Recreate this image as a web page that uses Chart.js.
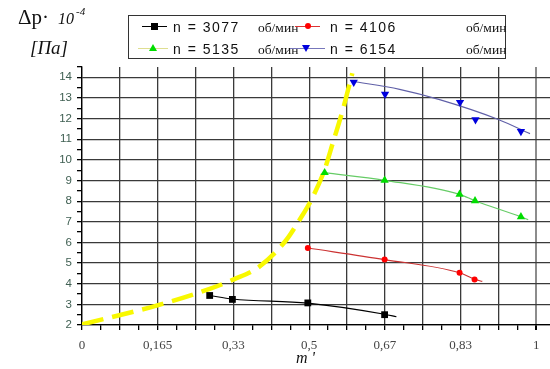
<!DOCTYPE html>
<html>
<head>
<meta charset="utf-8">
<script src="https://cdn.jsdelivr.net/npm/chart.js@4.4.0/dist/chart.umd.min.js"></script>
<style>
body { margin: 0; background: #fff; }
#wrap { position: relative; width: 550px; height: 369px; overflow: hidden; }
#chart { position: absolute; left: 0; top: 0; }
.t { position: absolute; white-space: nowrap; font-family: "Liberation Serif", serif; color: #111; line-height: 1; }
.sans { font-family: "Liberation Sans", Arial, sans-serif; font-size: 14px; letter-spacing: 1.5px; }
.ser { font-size: 13.5px; }
#legend { position: absolute; left: 128px; top: 15px; width: 376px; height: 42px; border: 1px solid #333; }
.ln { position: absolute; height: 1px; }
.mk { position: absolute; }
</style>
</head>
<body>
<div id="wrap">
  <canvas id="chart" width="550" height="369"></canvas>

  <div class="t" style="left:18px;top:7px;font-size:21px;">&Delta;p&middot;<i style="font-size:16px;margin-left:9px">10</i><sup style="font-size:11px;font-style:italic;position:relative;top:-1px;margin-left:2px">-4</sup></div>
  <div class="t" style="left:30px;top:38px;font-size:19px;"><i>[Па]</i></div>
  <div class="t" style="left:296px;top:350px;font-size:16px;"><i>m '</i></div>

  <div id="legend">
    <div class="ln" style="left:13px;top:10px;width:25px;background:#000"></div>
    <div class="mk" style="left:22px;top:7px;width:7px;height:7px;background:#000"></div>
    <div class="t sans" style="left:44px;top:4px">n = 3077</div>
    <div class="t ser" style="left:129px;top:5px">об/мин</div>

    <div class="ln" style="left:166px;top:10px;width:25px;background:#d33"></div>
    <div class="mk" style="left:176px;top:7px;width:6px;height:6px;border-radius:50%;background:#f00"></div>
    <div class="t sans" style="left:201px;top:4px">n = 4106</div>
    <div class="t ser" style="left:337px;top:5px">об/мин</div>

    <div class="ln" style="left:9px;top:32px;width:30px;background:#dede90"></div>
    <div class="mk" style="left:20px;top:28px;width:0;height:0;border-left:4.5px solid transparent;border-right:4.5px solid transparent;border-bottom:7px solid #00dd00"></div>
    <div class="t sans" style="left:44px;top:26px">n = 5135</div>
    <div class="t ser" style="left:129px;top:27px">об/мин</div>

    <div class="ln" style="left:161px;top:32px;width:35px;background:#7777bb"></div>
    <div class="mk" style="left:173px;top:29px;width:0;height:0;border-left:4.5px solid transparent;border-right:4.5px solid transparent;border-top:7px solid #0000dd"></div>
    <div class="t sans" style="left:201px;top:26px">n = 6154</div>
    <div class="t ser" style="left:337px;top:27px">об/мин</div>
  </div>
</div>

<script>
// tick labels, x axis goes in steps of 1/12, labels every 1/6
const xTickLabels = ['0', '0,165', '0,33', '0,5', '0,67', '0,83', '1'];
const yMin = 2, yMax = 14.5;

// measured points (m', dp*1e-4)
const m3077 = [0.281, 0.331, 0.497, 0.666];
const dp3077 = [3.43, 3.24, 3.07, 2.50];
const m4106 = [0.497, 0.666, 0.831, 0.864];
const dp4106 = [5.73, 5.17, 4.53, 4.21];
const m5135 = [0.534, 0.666, 0.831, 0.865, 0.966];
const dp5135 = [9.38, 9.01, 8.33, 8.02, 7.24];
const m6154 = [0.598, 0.667, 0.832, 0.866, 0.966];
const dp6154 = [13.76, 13.18, 12.79, 11.95, 11.38];

// approximating curves as drawn
const fit3077X = [0.281, 0.331, 0.497, 0.666, 0.692];
const fit3077Y = [3.43, 3.26, 3.06, 2.52, 2.40];
const fit4106X = [0.497, 0.666, 0.831, 0.864, 0.881];
const fit4106Y = [5.73, 5.17, 4.53, 4.22, 4.11];
const fit5135X = [0.534, 0.666, 0.831, 0.865, 0.966, 0.982];
const fit5135Y = [9.38, 9.01, 8.33, 8.02, 7.24, 7.10];
const fit6154X = [0.594, 0.699, 0.787, 0.915, 0.986];
const fit6154Y = [13.81, 13.42, 12.92, 11.97, 11.27];

// yellow dashed boundary curve
const edgeX = [0, 0.164, 0.281, 0.333, 0.391, 0.450, 0.479, 0.497, 0.505, 0.534, 0.552, 0.574, 0.595];
const edgeY = [2.03, 2.94, 3.75, 4.20, 4.84, 6.13, 7.10, 7.75, 8.07, 9.53, 10.82, 12.43, 14.2];

function pts(xs, ys) {
  return xs.map((x, i) => ({ x: x, y: ys[i] }));
}

function marks(xs, ys, color, style, r, rot) {
  return {
    data: pts(xs, ys), showLine: false,
    pointStyle: style, pointRadius: r, pointRotation: rot || 0,
    pointBackgroundColor: color, pointBorderColor: color, pointBorderWidth: 0
  };
}

function curve(xs, ys, color, w) {
  return {
    data: pts(xs, ys), showLine: true, pointRadius: 0,
    borderColor: color, borderWidth: w, cubicInterpolationMode: 'monotone'
  };
}

const yellow = curve(edgeX, edgeY, '#f8f800', 4.5);
yellow.borderDash = [22, 9];

const ctx = document.getElementById('chart').getContext('2d');
const chart = new Chart(ctx, {
  type: 'scatter',
  data: {
    datasets: [
      marks(m6154, dp6154, '#0000dd', 'triangle', 4.8, 180),
      marks(m5135, dp5135, '#00dd00', 'triangle', 4.8),
      marks(m4106, dp4106, '#ff0000', 'circle', 3),
      marks(m3077, dp3077, '#000000', 'rect', 4.8),
      curve(fit6154X, fit6154Y, '#6060a8', 1.2),
      curve(fit5135X, fit5135Y, '#66cc66', 1.2),
      curve(fit4106X, fit4106Y, '#cc3333', 1.2),
      curve(fit3077X, fit3077Y, '#000000', 1.2),
      yellow
    ]
  },
  options: {
    responsive: false,
    animation: false,
    devicePixelRatio: 1,
    layout: { autoPadding: false, padding: { left: 0, right: 0, top: 67, bottom: 0 } },
    plugins: { legend: { display: false }, tooltip: { enabled: false } },
    scales: {
      x: {
        type: 'linear', min: 0, max: 1.03,
        afterBuildTicks: (s) => {
          s.ticks = [];
          for (let i = 0; i <= 24; i++) s.ticks.push({ value: i / 24 });
        },
        afterFit: (s) => { s.height = 44; s.paddingLeft = 0; s.paddingRight = 0; },
        ticks: {
          autoSkip: false, maxRotation: 0, padding: 8,
          color: '#444', font: { family: 'Liberation Serif', size: 13 },
          callback: (v) => {
            const i = Math.round(v * 24);
            return i % 4 === 0 ? xTickLabels[i / 4] : '';
          }
        },
        grid: {
          tickLength: 5, tickColor: '#000',
          lineWidth: (c) => (Math.round(c.tick.value * 24) === 24 ? 2 : 1.3),
          color: (c) => {
            const i = Math.round(c.tick.value * 24);
            if (i % 2) return 'rgba(0,0,0,0)';
            return i === 24 ? '#8c8c8c' : '#3a3a3a';
          }
        },
        border: { color: '#000', width: 1.3 }
      },
      y: {
        type: 'linear', min: yMin, max: yMax,
        afterBuildTicks: (s) => {
          s.ticks = [];
          for (let v = yMin; v <= yMax; v += 0.5) s.ticks.push({ value: v });
        },
        afterFit: (s) => { s.width = 82; s.paddingTop = 0; s.paddingBottom = 0; },
        ticks: {
          autoSkip: false, padding: 5,
          color: '#3f5f52', font: { family: 'Liberation Sans', size: 11.5 },
          callback: (v) => (Number.isInteger(v) ? String(v) : '')
        },
        grid: {
          tickLength: 5, tickColor: '#000', lineWidth: 1.3,
          color: (c) => (Number.isInteger(c.tick.value) ? '#3a3a3a' : 'rgba(0,0,0,0)')
        },
        border: { color: '#000', width: 1.3 }
      }
    }
  }
});
</script>
</body>
</html>
